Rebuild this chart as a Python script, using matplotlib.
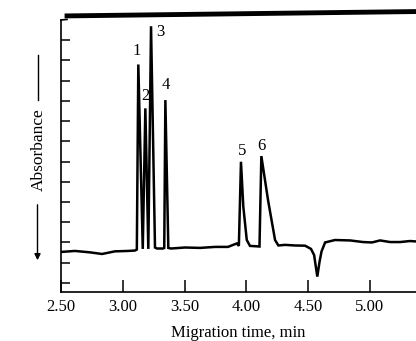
import matplotlib
matplotlib.use('Agg')
import matplotlib.pyplot as plt

plt.rcParams['font.family'] = ['Liberation Serif', 'DejaVu Serif']

# trace (time in min, absorbance in tick units)
trace_time = [2.500, 2.613, 2.735, 2.832, 2.937, 3.043, 3.099, 3.114, 3.126, 3.162,
              3.183, 3.207, 3.229, 3.261, 3.277, 3.326, 3.336, 3.345, 3.369, 3.391,
              3.504, 3.626, 3.747, 3.852, 3.923, 3.940, 3.957, 3.976, 4.004, 4.030,
              4.107, 4.122, 4.176, 4.233, 4.260, 4.314, 4.395, 4.476, 4.524, 4.549,
              4.575, 4.593, 4.609, 4.638, 4.718, 4.840, 4.945, 5.018, 5.083, 5.164,
              5.245, 5.326, 5.374]
trace_abs = [1.53, 1.58, 1.51, 1.43, 1.56, 1.58, 1.60, 1.65, 10.80, 1.68,
             8.63, 1.68, 12.69, 1.75, 1.70, 1.70, 1.73, 9.04, 1.73, 1.70,
             1.75, 1.73, 1.78, 1.78, 1.95, 1.83, 5.99, 3.77, 2.12, 1.83,
             1.80, 6.27, 4.10, 2.12, 1.85, 1.88, 1.85, 1.84, 1.68, 1.38,
             0.31, 1.04, 1.55, 2.00, 2.12, 2.10, 2.02, 2.00, 2.10, 2.02,
             2.02, 2.07, 2.05]

# numbered peaks
peak_names = ['1', '2', '3', '4', '5', '6']
peak_time = [3.126, 3.183, 3.229, 3.345, 3.957, 4.122]
peak_abs = [10.80, 8.63, 12.69, 9.04, 5.99, 6.27]
label_offset = [(-1, 10), (0, 9), (7, -4), (0, 11), (0.5, 8), (0, 7)]  # points

xticks = [2.50, 3.00, 3.50, 4.00, 4.50, 5.00]

fig = plt.figure(figsize=(4.16, 3.41), dpi=100)
ax = fig.add_axes([0.1466, 0.1437, 0.8534, 0.7977])

ax.plot(trace_time, trace_abs, color='black', lw=1.8, solid_joinstyle='miter')

for name, t, a, off in zip(peak_names, peak_time, peak_abs, label_offset):
    ax.annotate(name, (t, a), xytext=off, textcoords='offset points',
                ha='center', va='center', fontsize=12)

ax.set_xlim(2.5, 5.374)
ax.set_ylim(-0.45, 13.0)
ax.set_xticks(xticks)
ax.set_xticklabels(['%.2f' % v for v in xticks], fontsize=12)
ax.set_yticks(range(13))
ax.set_yticklabels([])
ax.tick_params(axis='x', direction='in', length=8.6, width=1.1, pad=5)
ax.tick_params(axis='y', direction='in', length=6.5, width=1.1)

for side in ['top', 'right']:
    ax.spines[side].set_visible(False)
for side in ['left', 'bottom']:
    ax.spines[side].set_linewidth(1.2)

# heavy recorder edge along the top
ax.plot([0, 0.017], [1.0, 1.002], color='black', lw=1.2,
        transform=ax.transAxes, clip_on=False)
ax.plot([0.017, 1.0], [1.015, 1.031], color='black', lw=3.5,
        transform=ax.transAxes, clip_on=False)

ax.set_xlabel('Migration time, min', fontsize=12, labelpad=7)

# y label with arrows
fig.text(39 / 416, 1 - 150 / 341, 'Absorbance', rotation=90,
         ha='center', va='center', fontsize=12.5)
fig.add_artist(plt.Line2D([37.5 / 416, 37.5 / 416], [1 - 55 / 341, 1 - 100 / 341],
                          color='black', lw=1.0))
ax.annotate('', xy=(37.5 / 416, 1 - 263 / 341), xytext=(37.5 / 416, 1 - 202 / 341),
            xycoords='figure fraction', textcoords='figure fraction',
            arrowprops=dict(arrowstyle='-|>', color='black', lw=1.0,
                            mutation_scale=9))

fig.savefig('out.png', dpi=100)
